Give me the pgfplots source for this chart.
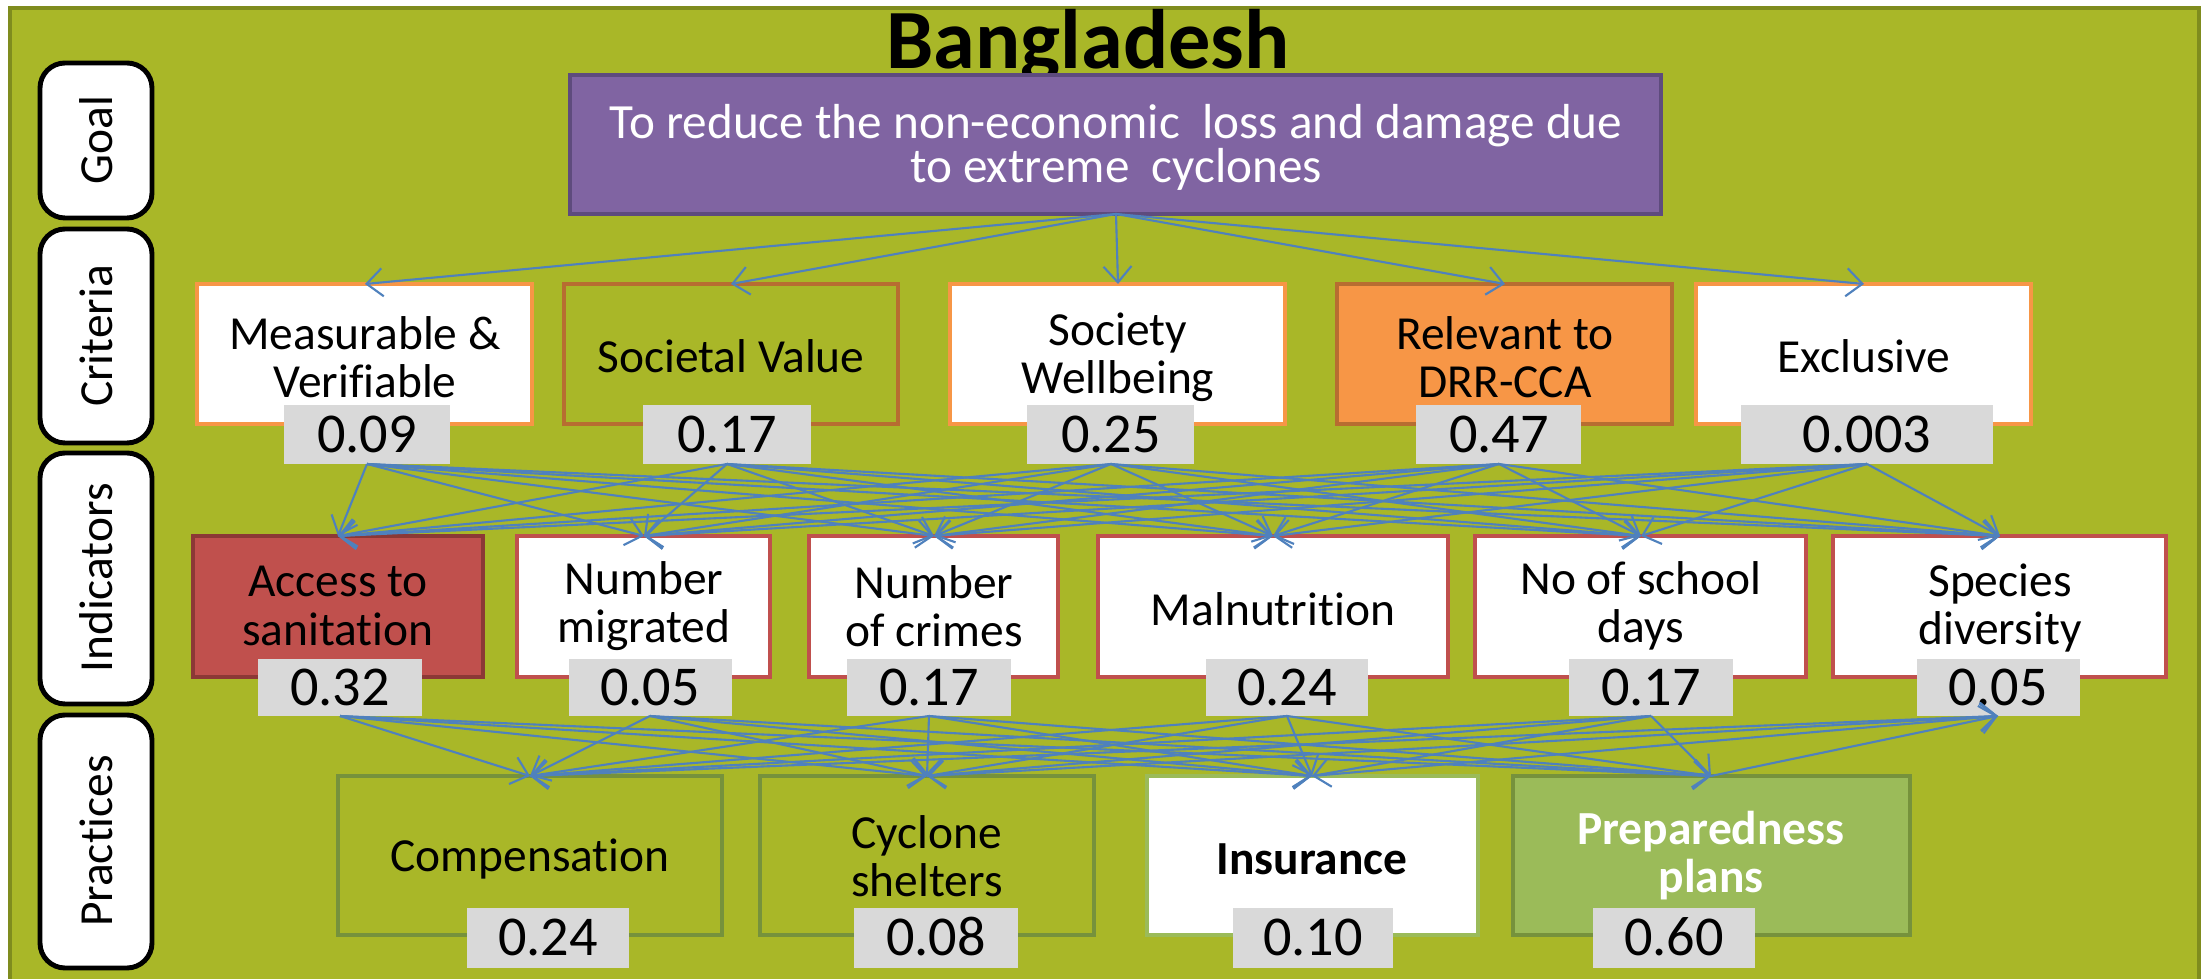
\documentclass[border=0pt]{standalone}
\usepackage{pgfplots}
\pgfplotsset{compat=1.18}
\usepackage{fontspec}
\setmainfont{Carlito}[Ligatures={NoCommon}]
\usetikzlibrary{arrows.meta}

\definecolor{bg}{RGB}{169,183,40}
\definecolor{framec}{RGB}{127,140,30}
\definecolor{purp}{RGB}{128,100,162}
\definecolor{purpd}{RGB}{94,75,125}
\definecolor{org}{RGB}{247,150,70}
\definecolor{orgd}{RGB}{183,109,49}
\definecolor{redb}{RGB}{192,80,77}
\definecolor{redd}{RGB}{140,56,54}
\definecolor{grn}{RGB}{155,187,89}
\definecolor{grnd}{RGB}{118,146,60}
\definecolor{vgray}{RGB}{217,217,217}
\definecolor{arr}{RGB}{79,129,189}

\newcommand{\lbl}{\fontsize{13.5}{13.7}\selectfont}
\newcommand{\val}{\fontsize{16}{16}\selectfont}

\begin{document}
\begin{tikzpicture}
\begin{axis}[
    scale only axis,
    width=22.07cm, height=9.79cm,
    xmin=0, xmax=2207, ymin=0, ymax=979,
    y dir=reverse,
    hide axis,
    clip=false,
]
% page and frame
\path[fill=white] (0,0) rectangle (2207,979);
\fill[bg] (10,8) rectangle (2199,979);
\draw[framec, line width=0.9pt] (10,979) -- (10,8) -- (2199,8) -- (2199,979);

% title
\node[inner sep=0pt, font=\bfseries\fontsize{24}{24}\selectfont] at (1088,46) {Bangladesh};

% level labels
\tikzset{side/.style={fill=white, draw=black, line width=1.4pt, rounded corners=0.25cm}}
\draw[side] (40,63) rectangle (152,218);
\draw[side] (40,229) rectangle (152,443);
\draw[side] (40,453) rectangle (152,704);
\draw[side] (40,715) rectangle (152,968);
\node[rotate=90, font=\lbl] at (96,140) {Goal};
\node[rotate=90, font=\lbl] at (96,336) {Criteria};
\node[rotate=90, font=\lbl] at (96,578) {Indicators};
\node[rotate=90, font=\lbl] at (96,841) {Practices};

% goal
\draw[fill=purp, draw=purpd, line width=1.1pt] (570,75) rectangle (1661,214);
\node[text=white, font=\fontsize{14}{12.5}\selectfont, align=center] at (1116,147)
    {To reduce the non-economic\ \ loss and damage due\\to extreme\ \ cyclones};

% criteria
\tikzset{bx/.style={line width=1.1pt}, lab/.style={font=\lbl, align=center}}
\draw[bx, fill=white, draw=org] (197,284) rectangle (532,424);
\draw[bx, draw=orgd] (564,284) rectangle (898,424);
\draw[bx, fill=white, draw=org] (950,284) rectangle (1285,424);
\draw[bx, fill=org, draw=orgd] (1337,284) rectangle (1672,424);
\draw[bx, fill=white, draw=org] (1696,284) rectangle (2031,424);
\node[lab] at (365,357) {Measurable \&\\Verifiable};
\node[lab] at (731,356) {Societal Value};
\node[lab] at (1118,357) {Society\\Wellbeing};
\node[lab] at (1505,357) {Relevant to\\DRR-CCA};
\node[lab] at (1864,356) {Exclusive};
\fill[vgray] (284,405) rectangle (450,464);
\fill[vgray] (643,405) rectangle (811,464);
\fill[vgray] (1027,405) rectangle (1194,464);
\fill[vgray] (1416,405) rectangle (1581,464);
\fill[vgray] (1741,405) rectangle (1993,464);
\node[font=\val] at (367,434) {0.09};
\node[font=\val] at (727,434) {0.17};
\node[font=\val] at (1111,434) {0.25};
\node[font=\val] at (1499,434) {0.47};
\node[font=\val] at (1867,434) {0.003};

% indicators
\draw[bx, fill=redb, draw=redd] (193,536) rectangle (483,677);
\draw[bx, fill=white, draw=redb] (517,536) rectangle (770,677);
\draw[bx, fill=white, draw=redb] (809,536) rectangle (1058,677);
\draw[bx, fill=white, draw=redb] (1098,536) rectangle (1448,677);
\draw[bx, fill=white, draw=redb] (1475,536) rectangle (1806,677);
\draw[bx, fill=white, draw=redb] (1833,536) rectangle (2166,677);
\node[lab] at (338,606) {Access to\\sanitation};
\node[lab] at (644,606) {Number\\migrated};
\node[lab] at (934,606) {Number\\of crimes};
\node[lab] at (1273,609) {Malnutrition};
\node[lab] at (1641,606) {No of school\\days};
\node[lab] at (2000,608) {Species\\diversity};
\fill[vgray] (258,659) rectangle (422,716);
\fill[vgray] (569,659) rectangle (732,716);
\fill[vgray] (847,659) rectangle (1011,716);
\fill[vgray] (1206,659) rectangle (1368,716);
\fill[vgray] (1569,659) rectangle (1733,716);
\fill[vgray] (1917,659) rectangle (2080,716);
\node[font=\val] at (340,687) {0.32};
\node[font=\val] at (650,687) {0.05};
\node[font=\val] at (929,687) {0.17};
\node[font=\val] at (1287,687) {0.24};
\node[font=\val] at (1651,687) {0.17};
\node[font=\val] at (1998,687) {0.05};

% practices
\draw[bx, draw=grnd] (338,776) rectangle (722,935);
\draw[bx, draw=grnd] (760,776) rectangle (1094,935);
\draw[bx, fill=white, draw=grn] (1147,776) rectangle (1478,935);
\draw[bx, fill=grn, draw=grnd] (1513,776) rectangle (1910,935);
\node[lab] at (530,859) {Compensation};
\node[lab] at (927,856) {Cyclone\\shelters};
\node[lab, font=\lbl\bfseries] at (1312,859) {Insurance};
\node[lab, font=\lbl\bfseries, text=white] at (1711,856) {Preparedness\\plans};
\fill[vgray] (467,908) rectangle (629,968);
\fill[vgray] (854,908) rectangle (1018,968);
\fill[vgray] (1233,908) rectangle (1393,968);
\fill[vgray] (1593,908) rectangle (1755,968);
\node[font=\val] at (548,937) {0.24};
\node[font=\val] at (936,937) {0.08};
\node[font=\val] at (1313,937) {0.10};
\node[font=\val] at (1674,937) {0.60};

% links between levels
\addplot[arr, line width=0.6pt, -{Straight Barb[length=1.6mm,width=2.8mm]},
    quiver={u=\thisrow{x2}-\thisrow{x1}, v=\thisrow{y2}-\thisrow{y1}}]
    table[x=x1, y=y1] {
x1 y1 x2 y2
1116 214 365 284
1116 214 731 284
1116 214 1118 284
1116 214 1505 284
1116 214 1864 284
367 464 338 536
367 464 644 536
367 464 934 536
367 464 1273 536
367 464 1641 536
367 464 2000 536
727 464 338 536
727 464 644 536
727 464 934 536
727 464 1273 536
727 464 1641 536
727 464 2000 536
1111 464 338 536
1111 464 644 536
1111 464 934 536
1111 464 1273 536
1111 464 1641 536
1111 464 2000 536
1499 464 338 536
1499 464 644 536
1499 464 934 536
1499 464 1273 536
1499 464 1641 536
1499 464 2000 536
1867 464 338 536
1867 464 644 536
1867 464 934 536
1867 464 1273 536
1867 464 1641 536
1867 464 2000 536
340 716 530 776
340 716 927 776
340 716 1312 776
340 716 1711 776
650 716 530 776
650 716 927 776
650 716 1312 776
650 716 1711 776
929 716 530 776
929 716 927 776
929 716 1312 776
929 716 1711 776
1287 716 530 776
1287 716 927 776
1287 716 1312 776
1287 716 1711 776
1651 716 530 776
1651 716 927 776
1651 716 1312 776
1651 716 1711 776
530 776 1998 716
927 776 1998 716
1312 776 1998 716
1711 776 1998 716
};
\end{axis}
\pgfresetboundingbox
\useasboundingbox (current axis.south west) rectangle (current axis.north east);
\end{tikzpicture}
\end{document}
